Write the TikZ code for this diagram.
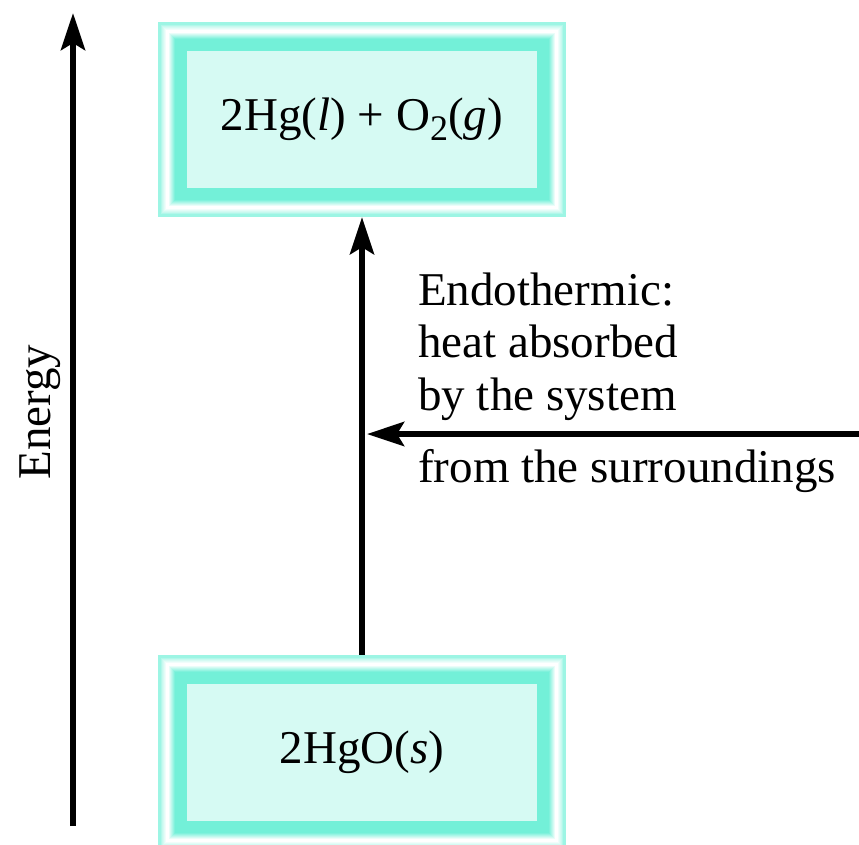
\documentclass[tikz,border=0pt]{standalone}
\usepackage{fontspec}
\setmainfont{Liberation Serif}
\usetikzlibrary{arrows.meta,backgrounds}
\definecolor{tealc}{RGB}{115,240,216}
\definecolor{innerc}{RGB}{214,250,243}
\tikzset{
  arr/.style={line width=6pt,-{Stealth[length=37pt,width=24pt,inset=7pt]}},
  lvlbox/.style={minimum width=408pt,minimum height=195pt,inner sep=0pt,
    font=\fontsize{47}{52}\selectfont},
  lbl/.style={inner sep=0pt,font=\fontsize{47}{52}\selectfont,anchor=base west},
}
\newcommand{\lvlframe}[1]{%
  \foreach \d/\p in {0/70,3/55,4/40,5/30,6/20,7/10,8/0,11/15,12/30,13/45,14/60,15/75,16/90,17/100}{%
    \fill[tealc!\p!white] ([shift={(\d pt,-\d pt)}]#1.north west) rectangle ([shift={(-\d pt,\d pt)}]#1.south east);
  }
  \fill[innerc] ([shift={(29pt,-29pt)}]#1.north west) rectangle ([shift={(-29pt,29pt)}]#1.south east);
}
\begin{document}
\begin{tikzpicture}[x=1pt,y=-1pt]
\useasboundingbox (0,0) rectangle (859,844);
\node[lvlbox] (top) at (362,119.5) {2Hg(\textit{l}) + O\raisebox{-10pt}{\fontsize{36}{36}\selectfont 2}(\textit{g})};
\node[lvlbox] (bot) at (362,752.5) {2HgO(\textit{s})};
\begin{scope}[on background layer]
  \lvlframe{top}
  \lvlframe{bot}
\end{scope}
% energy axis
\coordinate (e0) at (73,826);
\coordinate (e1) at (73,13);
\draw[arr] (e0) -- (e1);
\node[inner sep=0pt,font=\fontsize{47}{52}\selectfont,rotate=90,anchor=base] (energy) at (50,412) {Energy};
% reaction arrow
\draw[arr] (bot.north) -- (top.south);
% heat arrow
\coordinate (src) at (859,434);
\draw[arr] (src) -- ([xshift=5pt]top.south |- src);
\node[lbl] (l1) at (418,305) {Endothermic:};
\node[lbl] (l2) at (418,357.5) {heat absorbed};
\node[lbl] (l3) at (418,410) {by the system};
\node[lbl] (l4) at (418,482) {from the surroundings};
\end{tikzpicture}
\end{document}
